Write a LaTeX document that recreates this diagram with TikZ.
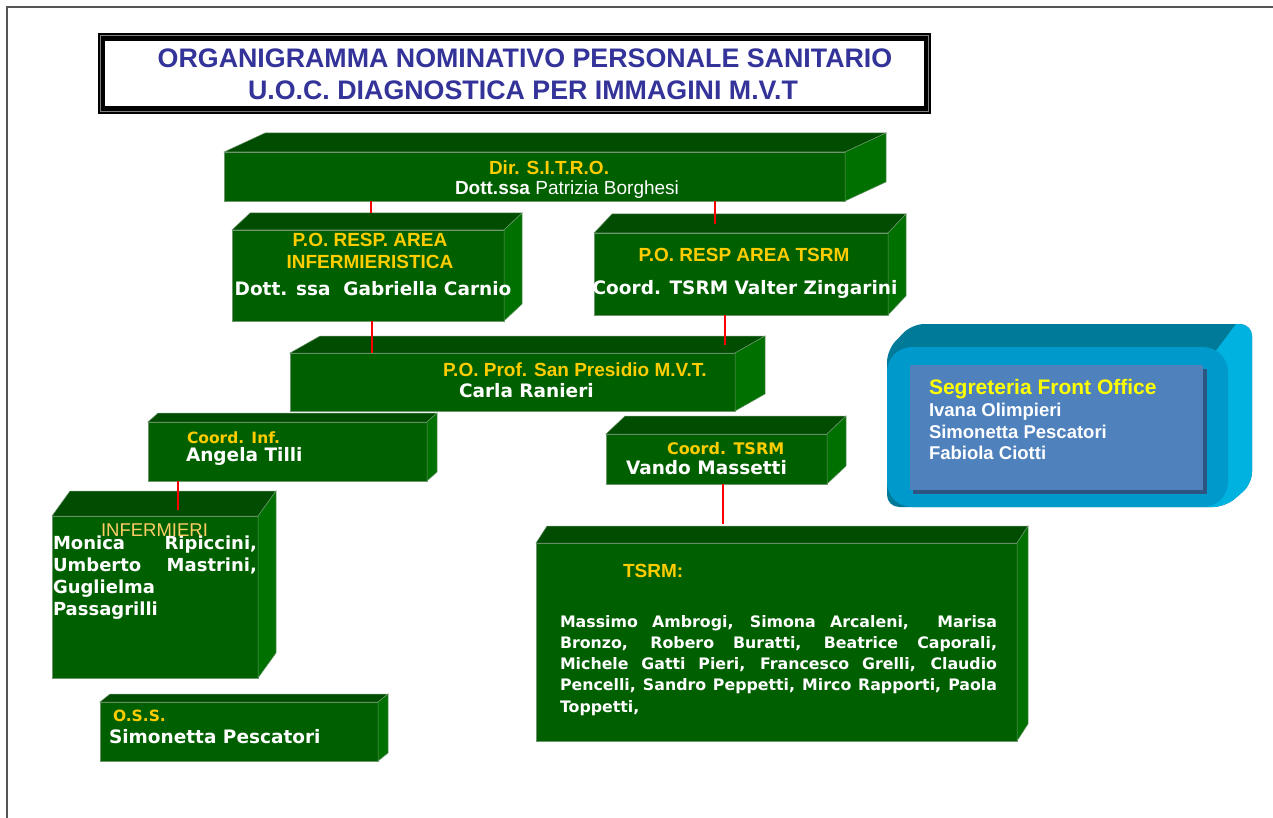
\documentclass[tikz,border=0pt]{standalone}
\usepackage{fontspec}
\setmainfont{Liberation Sans}
\newfontfamily\verd{DejaVu Sans}
\usetikzlibrary{calc}
\definecolor{gfrontc}{RGB}{0,96,0}
\definecolor{gtopc}{RGB}{0,76,0}
\definecolor{gsidec}{RGB}{0,112,0}
\definecolor{gedge}{RGB}{110,150,110}
\definecolor{ylw}{RGB}{255,204,0}
\definecolor{ylwlt}{RGB}{255,204,102}
\definecolor{segylw}{RGB}{255,255,0}
\definecolor{titleblue}{RGB}{51,51,153}
\definecolor{segfrontc}{RGB}{0,153,204}
\definecolor{segtopc}{RGB}{0,122,153}
\definecolor{segsidec}{RGB}{0,178,224}
\definecolor{seginc}{RGB}{79,129,189}
\definecolor{segshadow}{RGB}{45,85,130}
\definecolor{framegray}{RGB}{85,85,85}
\tikzset{
  gfront/.style={rectangle, fill=gfrontc, draw=gedge, line width=0.6pt, inner sep=0pt, outer sep=0pt},
  gtop/.style={fill=gtopc, draw=gedge, line width=0.5pt},
  gside/.style={fill=gsidec, draw=gedge, line width=0.5pt},
  conn/.style={draw=red, line width=2.5pt},
  txt/.style={inner sep=0pt, outer sep=0pt},
  ytitle/.style={txt, text=ylw, font=\bfseries\fontsize{19}{22}\selectfont},
  yverd/.style={txt, text=ylw, font=\verd\bfseries\fontsize{15.5}{20}\selectfont},
  wverd/.style={txt, text=white, font=\verd\bfseries\fontsize{18.5}{22}\selectfont},
  wsans/.style={txt, text=white, font=\fontsize{19}{22}\selectfont},
  segname/.style={txt, text=white, font=\bfseries\fontsize{18.5}{21.5}\selectfont},
  titletxt/.style={txt, text=titleblue, font=\bfseries\fontsize{26.8}{32}\selectfont},
}
% #1 name, #2 x, #3 y (front top-left), #4 width, #5 height, #6 dx, #7 dy (depth)
\newcommand\gbox[7]{%
  \node[gfront, minimum width=#4pt, minimum height=#5pt, anchor=north west] (#1) at (#2,#3) {};
  \filldraw[gtop] (#1.north west) -- ++(#6,-#7) -- ($(#1.north east)+(#6,-#7)$) -- (#1.north east) -- cycle;
  \filldraw[gside] (#1.north east) -- ++(#6,-#7) -- ($(#1.south east)+(#6,-#7)$) -- (#1.south east) -- cycle;
}
\begin{document}
\begin{tikzpicture}[x=1pt, y=-1pt]
\useasboundingbox (0,0) rectangle (1273,818);
\fill[white] (0,0) rectangle (1273,818);
% page frame
\draw[framegray, line width=2pt] (7,818) -- (7,7) -- (1273,7);

% title
\node[fill=black, rectangle, inner sep=0pt, outer sep=0pt, minimum width=833pt, minimum height=81pt, anchor=north west] (titlebox) at (98,33) {};
\draw[gray, line width=0.8pt] ($(titlebox.north west)+(2.5,2.5)$) rectangle ($(titlebox.south east)+(-2.5,-2.5)$);
\fill[white] ($(titlebox.north west)+(7,8)$) rectangle ($(titlebox.south east)+(-7,-8)$);
\node[titletxt, anchor=base] (title1) at (525,68) {ORGANIGRAMMA NOMINATIVO PERSONALE SANITARIO};
\node[titletxt, anchor=base] (title2) at (523,100) {U.O.C. DIAGNOSTICA PER IMMAGINI M.V.T};

% green boxes
\gbox{dir}{224}{152}{621}{49}{41}{19}
\gbox{poinf}{232}{230}{272}{91}{18}{17}
\gbox{potsrm}{594}{233}{294}{82}{18}{19}
\gbox{prof}{290}{353}{445}{58}{30}{17}
\gbox{coordinf}{148}{422}{279}{59}{10}{9}
\gbox{coordtsrm}{606}{434}{221}{50}{19}{18}
\gbox{infermieri}{52}{516}{206}{162}{18}{25}
\gbox{tsrm}{536}{543}{481}{198}{11}{17}
\gbox{oss}{100}{702}{278}{59}{10}{8}

% connectors
\draw[conn] ([xshift=3pt]poinf.north |- dir.south) -- ([xshift=3pt,yshift=17pt]poinf.north);
\draw[conn] ([xshift=-26pt]potsrm.north |- dir.south) -- ([xshift=-26pt,yshift=9pt]potsrm.north);
\draw[conn] ([xshift=4pt]poinf.south) -- ([xshift=4pt]poinf.south |- prof.north);
\draw[conn] ([xshift=-16pt]potsrm.south) -- ([xshift=-16pt,yshift=8pt]potsrm.south |- prof.north);
\draw[conn] ([xshift=-109.5pt]coordinf.south) -- ([xshift=-109.5pt,yshift=6pt]coordinf.south |- infermieri.north);
\draw[conn] ([xshift=6.5pt]coordtsrm.south) -- ([xshift=6.5pt,yshift=19pt]coordtsrm.south |- tsrm.north);

% texts in green boxes
\node[ytitle, anchor=mid] (dirT) at (549,172) {Dir. S.I.T.R.O.};
\node[wsans, anchor=mid] (dirN) at (567,192) {\textbf{Dott.ssa} Patrizia Borghesi};

\node[ytitle, anchor=mid] (poinfT1) at (370,244) {P.O. RESP. AREA};
\node[ytitle, anchor=mid] (poinfT2) at (370,266) {INFERMIERISTICA};
\node[wverd, anchor=mid] (poinfN) at (373,293) {Dott. ssa\ \ Gabriella Carnio};

\node[ytitle, anchor=mid] (potsrmT) at (744,259) {P.O. RESP AREA TSRM};
\node[wverd, anchor=mid] (potsrmN) at (745,292) {Coord. TSRM Valter Zingarini};

\node[ytitle, anchor=mid west] (profT) at (443,374) {P.O. Prof. San Presidio M.V.T.};
\node[wverd, anchor=mid west] (profN) at (459,395) {Carla Ranieri};

\node[yverd, anchor=mid west] (coordinfT) at (187,441) {Coord. Inf.};
\node[wverd, anchor=mid west] (coordinfN) at (186,459) {Angela Tilli};

\node[yverd, anchor=mid west, font=\verd\bfseries\fontsize{16}{20}\selectfont] (coordtsrmT) at (667,452) {Coord. TSRM};
\node[wverd, anchor=mid west] (coordtsrmN) at (626,472) {Vando Massetti};

\node[txt, text=white, anchor=north west, text width=204pt, align=justify, font=\verd\bfseries\fontsize{18}{22}\selectfont] (infN) at (53,536)
  {Monica Ripiccini,\linebreak Umberto Mastrini,\linebreak Guglielma\\ Passagrilli};
\node[txt, text=ylwlt, anchor=mid west, font=\fontsize{18.5}{22}\selectfont] (infT) at (101,534) {INFERMIERI};

\node[ytitle, anchor=mid west] (tsrmT) at (623,575) {TSRM:};
\node[txt, text=white, anchor=north west, text width=437pt, align=justify, font=\verd\bfseries\fontsize{15.8}{21.3}\selectfont] (tsrmN) at (560,615)
  {Massimo Ambrogi, Simona Arcaleni,\ \ Marisa\linebreak Bronzo, Robero Buratti, Beatrice Caporali,\linebreak Michele Gatti Pieri, Francesco Grelli, Claudio\linebreak Pencelli, Sandro Peppetti, Mirco Rapporti, Paola\linebreak Toppetti,};

\node[yverd, anchor=mid west] (ossT) at (113,719) {O.S.S.};
\node[wverd, anchor=mid west] (ossN) at (109,741) {Simonetta Pescatori};

% segreteria box
\begin{scope}
  \clip[rounded corners=12pt] (887,350) -- (912,324) -- (1252,324) -- (1252,484) -- (1225,507) -- (887,507) -- cycle;
  \fill[segtopc] (880,320) rectangle (1260,510);
  \fill[segsidec] (1203,368) -- (1236,324) -- (1260,324) -- (1260,510) -- (1203,510) -- cycle;
\end{scope}
\node[rectangle, rounded corners=25pt, fill=segfrontc, inner sep=0pt, outer sep=0pt, minimum width=341pt, minimum height=160pt, anchor=north west] (seg) at (887,347) {};
\fill[segshadow] (913,369) rectangle (1207,494);
\node[rectangle, fill=seginc, inner sep=0pt, outer sep=0pt, minimum width=293pt, minimum height=125pt, anchor=north west] (segin) at (910,365) {};
\node[txt, text=segylw, anchor=mid west, font=\bfseries\fontsize{21}{25}\selectfont] (segT) at (929,392) {Segreteria Front Office};
\node[segname, anchor=mid west] (seg1) at (929,414) {Ivana Olimpieri};
\node[segname, anchor=mid west] (seg2) at (929,436) {Simonetta Pescatori};
\node[segname, anchor=mid west] (seg3) at (929,457) {Fabiola Ciotti};
\end{tikzpicture}
\end{document}
